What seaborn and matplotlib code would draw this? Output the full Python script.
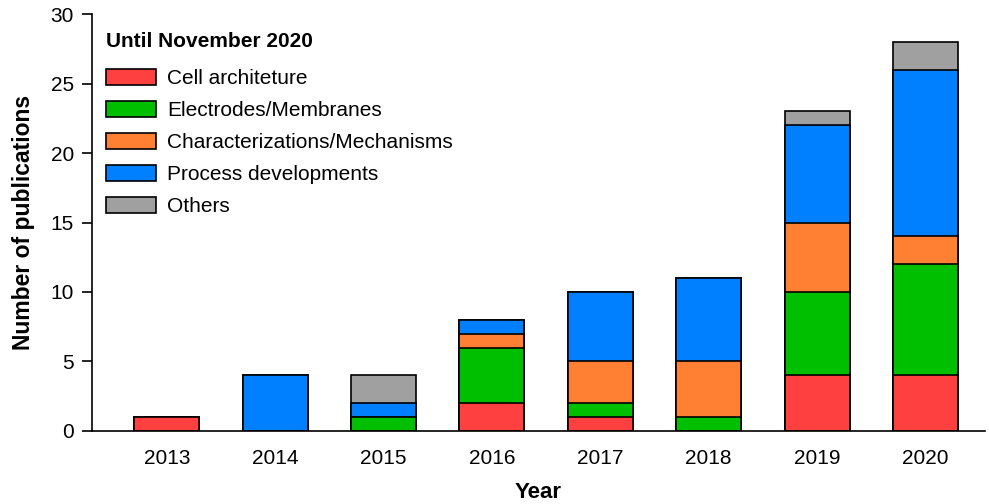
import pandas as pd
import matplotlib.pyplot as plt
import seaborn as sns
from matplotlib.patches import Patch

years = ["2013", "2014", "2015", "2016", "2017", "2018", "2019", "2020"]
cell = [1, 0, 0, 2, 1, 0, 4, 4]
electrodes = [0, 0, 1, 4, 1, 1, 6, 8]
charact = [0, 0, 0, 1, 3, 4, 5, 2]
process = [0, 4, 1, 1, 5, 6, 7, 12]
others = [0, 0, 2, 0, 0, 0, 1, 2]

categorias = ["Cell architeture", "Electrodes/Membranes", "Characterizations/Mechanisms",
              "Process developments", "Others"]
colores = ["#ff4040", "#00bf00", "#ff8033", "#0080ff", "#a0a0a0"]

df = pd.DataFrame({
    "year": years,
    categorias[0]: cell,
    categorias[1]: electrodes,
    categorias[2]: charact,
    categorias[3]: process,
    categorias[4]: others,
})
acumulado = df[categorias].cumsum(axis=1)
acumulado["year"] = df["year"]

plt.rcParams["font.family"] = ["Liberation Sans", "DejaVu Sans"]
fig = plt.figure(figsize=(9.89, 5.04), dpi=100)
ax = fig.add_axes([0.093, 0.145, 0.903, 0.827])

# de arriba hacia abajo: cada capa tapa la anterior
for cat, col in reversed(list(zip(categorias, colores))):
    sns.barplot(data=acumulado, x="year", y=cat, color=col, width=0.6,
                edgecolor="black", linewidth=1.2, saturation=1, ax=ax)

ax.set_ylim(0, 30)
ax.set_xlim(-0.69, 7.55)
ax.set_yticks(range(0, 31, 5))
ax.spines["top"].set_visible(False)
ax.spines["right"].set_visible(False)
ax.spines["left"].set_linewidth(1.2)
ax.spines["bottom"].set_linewidth(1.2)
ax.tick_params(axis="y", direction="out", length=7, width=1.2, labelsize=15, pad=6)
ax.tick_params(axis="x", length=0, labelsize=15, pad=13)
ax.set_xlabel("Year", fontsize=16, fontweight="bold", labelpad=10)
ax.set_ylabel("Number of publications", fontsize=16.5, fontweight="bold", labelpad=11)

handles = [Patch(facecolor=c, edgecolor="black", linewidth=1.2) for c in colores]
leg = ax.legend(handles, categorias, title="Until November 2020", loc="upper left",
                bbox_to_anchor=(-0.0056, 1.002), frameon=False, fontsize=15,
                title_fontproperties={"weight": "bold", "size": 15},
                handlelength=2.4, handleheight=0.85, handletextpad=0.55,
                labelspacing=0.6, alignment="left", borderaxespad=0.5)
leg._legend_box.sep = 12.6  # mas aire entre titulo y entradas

plt.savefig("out.png", dpi=100)
plt.close(fig)
